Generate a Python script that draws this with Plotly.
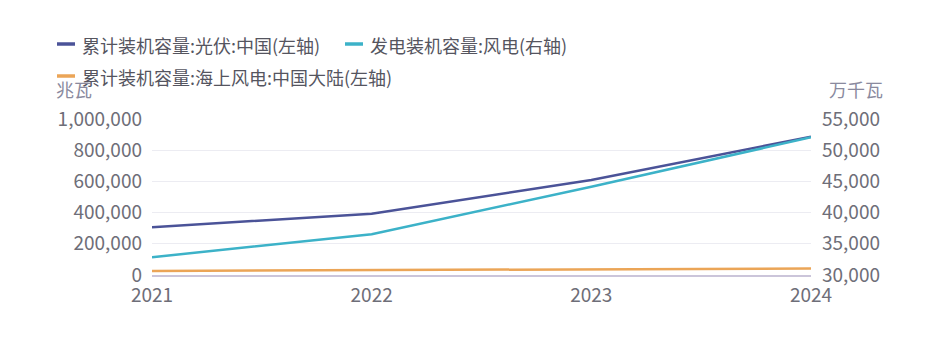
import plotly.graph_objects as go

# Data
years = ["2021", "2022", "2023", "2024"]
pv_china_mw = [306560, 392610, 609490, 886660]           # 累计装机容量:光伏:中国 (兆瓦)
wind_cap_10mw = [32848, 36544, 44134, 52068]             # 发电装机容量:风电 (万千瓦)
offshore_mainland_mw = [26380, 30460, 37290, 41270]      # 累计装机容量:海上风电:中国大陆 (兆瓦)

left_ticks = [0, 200000, 400000, 600000, 800000, 1000000]
right_ticks = [30000, 35000, 40000, 45000, 50000, 55000]

names = ["累计装机容量:光伏:中国(左轴)", "发电装机容量:风电(右轴)", "累计装机容量:海上风电:中国大陆(左轴)"]
colors = ["#4b5398", "#3cb2c8", "#eba557"]

FONT = "Noto Sans CJK SC, Microsoft YaHei, sans-serif"
TICK_COLOR = "#6e6e78"

fig = go.Figure()
fig.add_trace(go.Scatter(x=years, y=pv_china_mw, mode="lines", name=names[0],
                         line=dict(color=colors[0], width=2.5), yaxis="y"))
fig.add_trace(go.Scatter(x=years, y=wind_cap_10mw, mode="lines", name=names[1],
                         line=dict(color=colors[1], width=2.5), yaxis="y2"))
fig.add_trace(go.Scatter(x=years, y=offshore_mainland_mw, mode="lines", name=names[2],
                         line=dict(color=colors[2], width=2.5), yaxis="y"))

W, H = 937, 339
L, R, T, B = 152, 126, 119, 64
PW, PH = W - L - R, H - T - B


def fx(xp):
    return (xp - L) / PW


def fy(yp):
    return (H - B - yp) / PH


# Custom legend: short line swatch followed by label text
legend_items = [(57, 44, 45), (345, 44, 45), (57, 76, 77)]
shapes = []
annotations = []
for (lx, ly, ty), name, col in zip(legend_items, names, colors):
    shapes.append(dict(type="line", xref="paper", yref="paper",
                       x0=fx(lx), x1=fx(lx + 18), y0=fy(ly), y1=fy(ly),
                       line=dict(color=col, width=3.5)))
    annotations.append(dict(xref="paper", yref="paper", x=fx(lx + 23), y=fy(ty),
                            text=name, showarrow=False, xanchor="left", yanchor="middle",
                            font=dict(family=FONT, size=18, color="#55555f")))

# Axis unit titles
annotations.append(dict(xref="paper", yref="paper", x=fx(54), y=fy(89),
                        text="兆瓦", showarrow=False, xanchor="left", yanchor="middle",
                        font=dict(family=FONT, size=18, color="#8a8a9e")))
annotations.append(dict(xref="paper", yref="paper", x=fx(885), y=fy(89),
                        text="万千瓦", showarrow=False, xanchor="right", yanchor="middle",
                        font=dict(family=FONT, size=18, color="#8a8a9e")))

fig.update_layout(
    width=W, height=H,
    margin=dict(l=L, r=R, t=T, b=B),
    paper_bgcolor="white", plot_bgcolor="white",
    showlegend=False,
    font=dict(family=FONT, size=19, color=TICK_COLOR),
    xaxis=dict(type="category", range=[0, 3], showgrid=False, zeroline=False,
               showline=True, linecolor="#cbc5da", linewidth=1.5,
               ticks="", tickfont=dict(size=19, color=TICK_COLOR),
               ticklabelstandoff=2),
    yaxis=dict(range=[0, 1000000], tickvals=left_ticks,
               ticktext=[f"{v:,}" for v in left_ticks],
               showgrid=True, gridcolor="#ececf2", gridwidth=1, zeroline=False,
               tickfont=dict(size=19, color=TICK_COLOR), ticklabelstandoff=9),
    yaxis2=dict(range=[30000, 55000], tickvals=right_ticks,
                ticktext=[f"{v:,}" for v in right_ticks],
                overlaying="y", side="right", showgrid=False, zeroline=False,
                tickfont=dict(size=19, color=TICK_COLOR), ticklabelstandoff=10),
    shapes=shapes,
    annotations=annotations,
)

fig.write_html("out.html")
